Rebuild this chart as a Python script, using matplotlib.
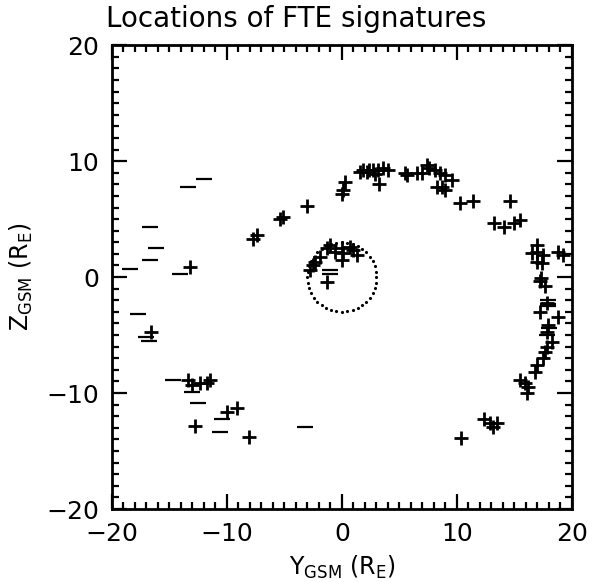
import numpy as np
import matplotlib
matplotlib.use('Agg')
import matplotlib.pyplot as plt

# FTE positions marked with '+'
plus_y = [-13.2, -7.7, -7.4, -5.4, -5.1, -3.0,
          -2.8, -2.5, -2.3, -1.9, -1.3, -1.0, -0.6, 0.0, 0.1, 0.7, 1.0, 1.3, 0.0, -1.3,
          0.3, 0.1, 0.0,
          1.6, 1.8, 2.2, 2.4, 2.7, 2.9, 3.2, 3.1, 3.6, 4.0, 5.5, 5.7, 6.5, 7.0, 7.4, 7.6,
          8.1, 8.5, 9.0, 9.6, 8.3, 8.7, 9.0,
          10.3, 11.4, 14.6, 13.2, 14.1, 15.0, 15.5,
          16.5, 17.0, 17.0, 17.5, 17.0, 17.4, 17.3, 17.2, 17.7, 18.8, 19.2,
          17.8, 17.2, 18.8, 17.9, 17.8, 18.3, 17.8, 17.7, 17.5, 17.0, 16.8,
          15.5, 15.9, 16.2, 16.1, 12.4, 12.9, 13.1, 13.5, 10.4,
          -16.6, -13.4, -13.0, -12.3, -11.7, -11.5, -10.0, -9.1, -12.8, -8.1]
plus_z = [0.9, 3.3, 3.6, 5.0, 5.2, 6.1,
          0.6, 1.0, 1.3, 1.7, 2.5, 2.8, 2.2, 2.5, 2.1, 2.6, 2.3, 1.9, 1.5, -0.4,
          8.2, 7.5, 7.2,
          9.1, 9.2, 9.1, 9.2, 9.2, 8.9, 8.0, 9.2, 9.4, 9.2, 9.0, 8.8, 9.0, 9.0, 9.7, 9.4,
          9.2, 9.0, 8.8, 8.4, 7.8, 7.8, 7.5,
          6.4, 6.6, 6.6, 4.7, 4.3, 4.7, 4.9,
          2.1, 2.8, 2.2, 1.9, 1.3, 1.2, -0.1, -0.3, -0.8, 2.2, 1.9,
          -2.2, -3.0, -3.4, -4.1, -4.7, -5.6, -6.0, -6.5, -7.0, -7.6, -8.2,
          -8.9, -9.1, -9.5, -10.0, -12.2, -12.6, -12.9, -12.6, -13.9,
          -4.7, -8.9, -9.3, -9.1, -9.1, -8.9, -11.6, -11.3, -12.8, -13.8]

# FTE positions marked with '-'
minus_y = [-13.4, -12.0, -16.7, -16.2, -16.7, -18.4, -14.1,
           -1.0, -1.0,
           17.9, 17.9, 18.0, 17.8, 17.9,
           -17.7, -17.0, -16.8, -14.7, -13.0, -12.5, -10.4, -10.6, -3.2]
minus_z = [7.8, 8.5, 4.3, 2.5, 1.5, 0.7, 0.3,
           0.6, 0.3,
           -2.0, -2.5, -4.4, -5.0, -2.3,
           -3.2, -5.2, -5.5, -8.9, -9.9, -10.9, -12.2, -13.4, -12.9]

circle_r = 3.0

fig = plt.figure(figsize=(5.92, 5.82), dpi=100)
ax = fig.add_axes([0.189, 0.1254, 0.777, 0.797])

ax.plot(plus_y, plus_z, '+', color='black', markersize=10.5, markeredgewidth=2)
ax.plot(minus_y, minus_z, '_', color='black', markersize=11, markeredgewidth=1.6)

th = np.linspace(0, 2 * np.pi, 40, endpoint=False)
ax.plot(circle_r * np.cos(th), circle_r * np.sin(th), '.', color='black',
        markersize=2.5)

ax.set_xlim(-20, 20)
ax.set_ylim(-20, 20)
ax.set_xticks([-20, -10, 0, 10, 20])
ax.set_yticks([-20, -10, 0, 10, 20])
ax.set_xticks(np.arange(-20, 21, 1), minor=True)
ax.set_yticks(np.arange(-20, 21, 1), minor=True)
ax.tick_params(which='both', direction='in', top=True, right=True,
               width=1.6, labelsize=18, pad=9)
ax.tick_params(which='major', length=11)
ax.tick_params(which='minor', length=5)
for s in ax.spines.values():
    s.set_linewidth(2)

# title is centred on the whole figure, as in the original
fig.text(0.5, 0.968, 'Locations of FTE signatures', fontsize=20,
         ha='center', va='center')
ax.set_xlabel(r'Y$_{\mathrm{GSM}}$ (R$_{\mathrm{E}}$)', fontsize=17, labelpad=6)
ax.set_ylabel(r'Z$_{\mathrm{GSM}}$ (R$_{\mathrm{E}}$)', fontsize=17, labelpad=8)

fig.savefig('out.png', dpi=100)
